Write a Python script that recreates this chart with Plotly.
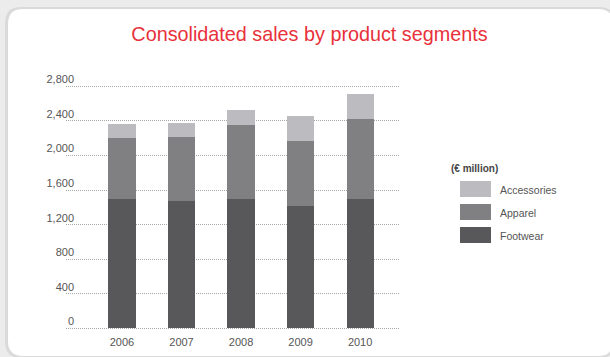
import plotly.graph_objects as go

# Puma consolidated sales by product segment, € million
years = ["2006", "2007", "2008", "2009", "2010"]
footwear = [1497, 1469, 1500, 1420, 1495]
apparel = [704, 743, 850, 750, 930]
accessories = [169, 161, 174, 290, 282]

segments = ["Accessories", "Apparel", "Footwear"]
colors = {"Footwear": "#58585a", "Apparel": "#808083", "Accessories": "#bcbcc0"}
y_ticks = [0, 400, 800, 1200, 1600, 2000, 2400, 2800]
y_tick_text = ["0", "400", "800", "1,200", "1,600", "2,000", "2,400", "2,800"]

W, H = 610, 357
ML, MR, MT, MB = 66, 210, 82, 26
PW, PH = W - ML - MR, H - MT - MB


def px(x):
    return (x - ML) / PW


def py(y):
    return (H - MB - y) / PH


def rounded_rect(x0, y0, x1, y1, r):
    pts = [
        f"M{px(x0 + r)},{py(y0)}",
        f"L{px(x1 - r)},{py(y0)}",
        f"Q{px(x1)},{py(y0)} {px(x1)},{py(y0 + r)}",
        f"L{px(x1)},{py(y1 - r)}",
        f"Q{px(x1)},{py(y1)} {px(x1 - r)},{py(y1)}",
        f"L{px(x0 + r)},{py(y1)}",
        f"Q{px(x0)},{py(y1)} {px(x0)},{py(y1 - r)}",
        f"L{px(x0)},{py(y0 + r)}",
        f"Q{px(x0)},{py(y0)} {px(x0 + r)},{py(y0)}",
        "Z",
    ]
    return " ".join(pts)


fig = go.Figure()
for name, vals in [("Footwear", footwear), ("Apparel", apparel), ("Accessories", accessories)]:
    fig.add_trace(go.Bar(
        x=years, y=vals, name=name, marker_color=colors[name],
        marker_line_width=0, width=0.455, showlegend=False,
    ))

shapes = []
# soft shadow and white card behind the chart
shapes.append(dict(type="path", xref="paper", yref="paper", layer="below",
                   path=rounded_rect(5, 7, 615, 358, 16),
                   fillcolor="#dadada", line_width=0))
shapes.append(dict(type="path", xref="paper", yref="paper", layer="below",
                   path=rounded_rect(8, 9, 613, 356, 15),
                   fillcolor="#ffffff", line_width=0))

annotations = [dict(
    text="(€ million)", xref="paper", yref="paper", x=px(449), y=py(168),
    xanchor="left", yanchor="middle", showarrow=False,
    font=dict(family="Liberation Sans, Arial", size=10, color="#444444", weight="bold"),
)]

# legend swatches and labels
for i, name in enumerate(segments):
    top = 181 + i * 23
    shapes.append(dict(type="rect", xref="paper", yref="paper",
                       x0=px(460), x1=px(491), y0=py(top), y1=py(top + 16),
                       fillcolor=colors[name], line_width=0))
    annotations.append(dict(
        text=name, xref="paper", yref="paper", x=px(498), y=py(top + 9),
        xanchor="left", yanchor="middle", showarrow=False,
        font=dict(family="Liberation Sans, Arial", size=10.5, color="#555555"),
    ))

fig.update_layout(
    width=W, height=H,
    margin=dict(l=ML, r=MR, t=MT, b=MB, pad=0, autoexpand=False),
    paper_bgcolor="#ececec", plot_bgcolor="rgba(0,0,0,0)",
    barmode="stack",
    title=dict(text="Consolidated sales by product segments",
               x=309.5 / W, xanchor="center", y=1 - 34 / H, yanchor="middle",
               automargin=False,
               font=dict(family="Liberation Sans, Arial", size=19.8, color="#e8313a")),
    xaxis=dict(type="category", range=[-0.94, 4.67], showgrid=False, automargin=False,
               showline=False, ticks="", zeroline=False, ticklabelstandoff=3,
               tickfont=dict(family="Liberation Sans, Arial", size=11, color="#555555")),
    yaxis=dict(range=[-30, 2850], tickvals=y_ticks, ticktext=y_tick_text, automargin=False,
               showgrid=True, gridcolor="#a8a8a8", griddash="1px,1px", gridwidth=1,
               zeroline=False, showline=False, ticks="",
               ticklabelshift=-7, ticklabelstandoff=-9,
               tickfont=dict(family="Liberation Sans, Arial", size=11, color="#555555")),
    shapes=shapes, annotations=annotations,
    font=dict(family="Liberation Sans, Arial"),
)

fig.write_html("out.html")
